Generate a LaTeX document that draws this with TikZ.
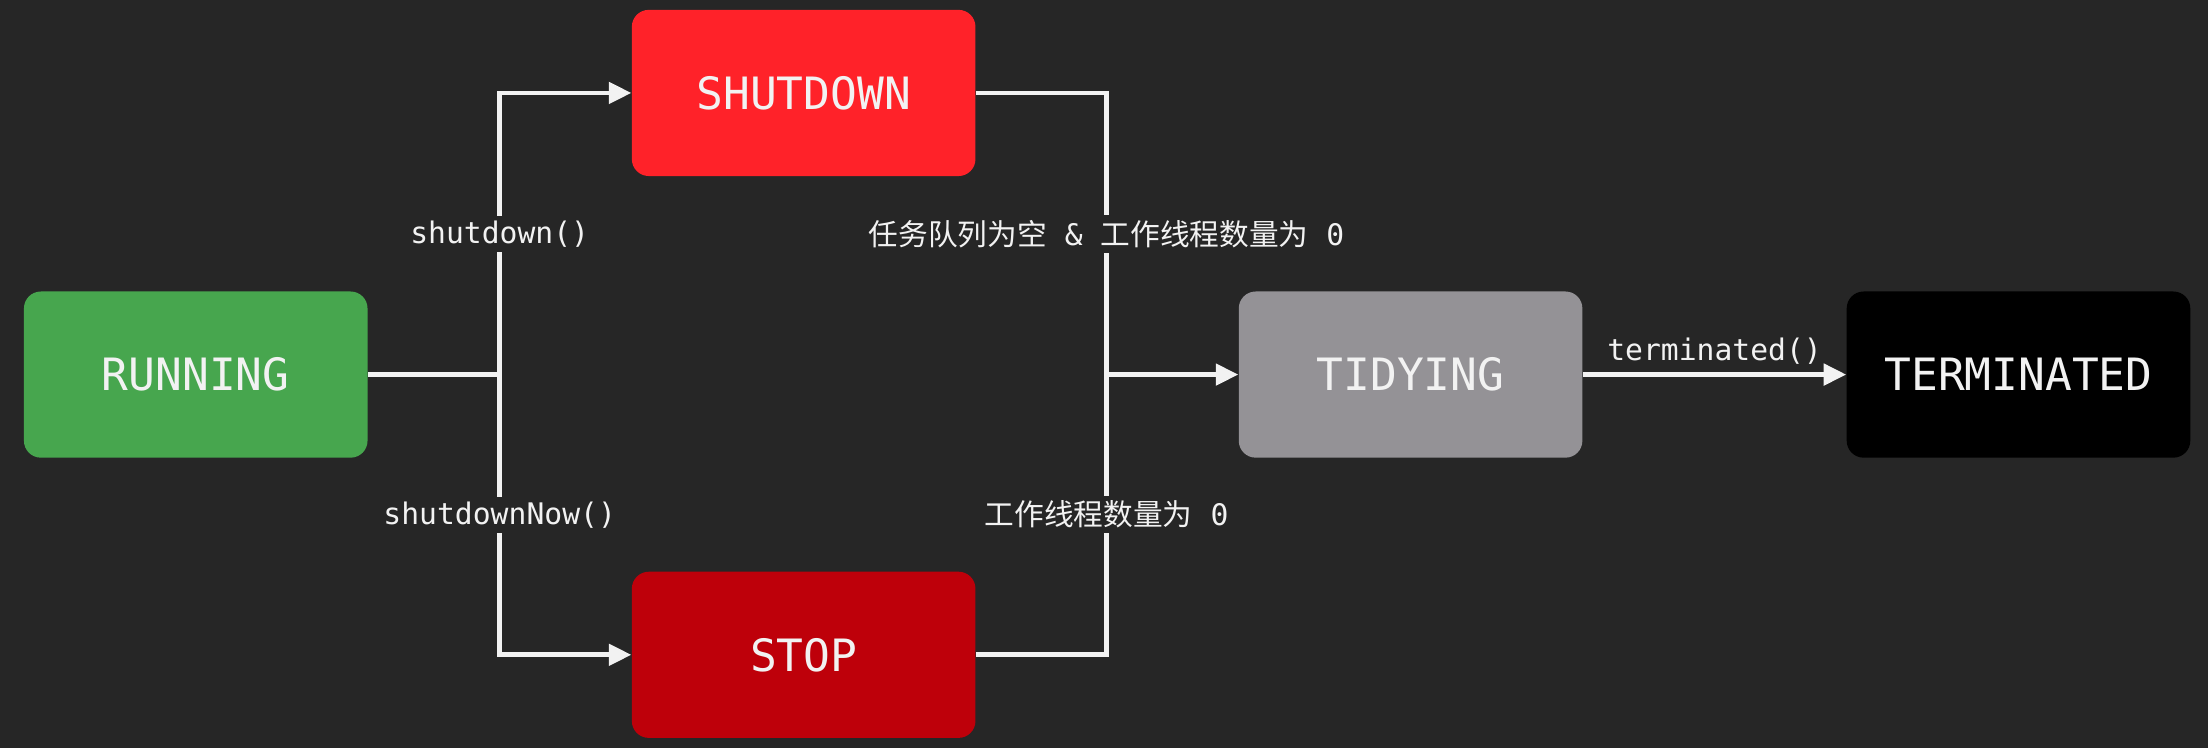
\documentclass[tikz,border=0pt]{standalone}
\usepackage{fontspec}
\setmonofont{DejaVu Sans Mono}
\newfontfamily\cjk{Noto Sans CJK SC}
\usepackage{tikz}
\usetikzlibrary{positioning,calc,arrows.meta}

\definecolor{bgdark}{RGB}{38,38,38}
\definecolor{runGreen}{RGB}{71,166,78}
\definecolor{shutRed}{RGB}{255,34,41}
\definecolor{stopRed}{RGB}{190,0,10}
\definecolor{tidyGray}{RGB}{148,146,150}
\definecolor{txtWhite}{RGB}{242,242,242}

\begin{document}
\begin{tikzpicture}[
		state/.style={rectangle, rounded corners=0.24cm, minimum width=4.88cm, minimum height=2.36cm, inner sep=0pt, text=txtWhite, font=\ttfamily\fontsize{18}{20}\selectfont},
		flow/.style={draw=txtWhite, line width=1.9pt},
		tip/.style={-{Triangle[length=0.32cm,width=0.3cm]}},
		lbl/.style={fill=bgdark, inner sep=2pt, text=txtWhite, font=\ttfamily\fontsize{12}{14}\selectfont}
	]
		\fill[bgdark] (0,0) rectangle (31.36,-10.62);
		
		\node[state, fill=runGreen] (running) at (2.78,-5.32) {RUNNING};
		\node[state, fill=shutRed, right=3.74cm of running, yshift=4cm] (shutdown) {SHUTDOWN};
		\node[state, fill=stopRed, right=3.74cm of running, yshift=-3.98cm] (stop) {STOP};
		\node[state, fill=tidyGray, right=12.36cm of running] (tidying) {TIDYING};
		\node[state, fill=black, right=3.74cm of tidying] (terminated) {TERMINATED};
		
		\coordinate[right=1.87cm of running] (split);
		\coordinate[left=1.87cm of tidying] (merge);
		
		\draw[flow] (running) -- (split);
		\draw[flow, tip] (split) |- node[lbl, pos=0.25] {shutdown()} (shutdown);
		\draw[flow, tip] (split) |- node[lbl, pos=0.25] {shutdownNow()} (stop);
		
		\draw[flow] (shutdown) -| node[lbl, pos=0.75] {{\cjk 任务队列为空} \& {\cjk 工作线程数量为} 0} (merge);
		\draw[flow] (stop) -| node[lbl, pos=0.75] {{\cjk 工作线程数量为} 0} (merge);
		\draw[flow, tip] (merge) -- (tidying);
		
		\draw[flow, tip] (tidying) -- node[lbl, fill=none, above=1pt] {terminated()} (terminated);
	\end{tikzpicture}
\end{document}
